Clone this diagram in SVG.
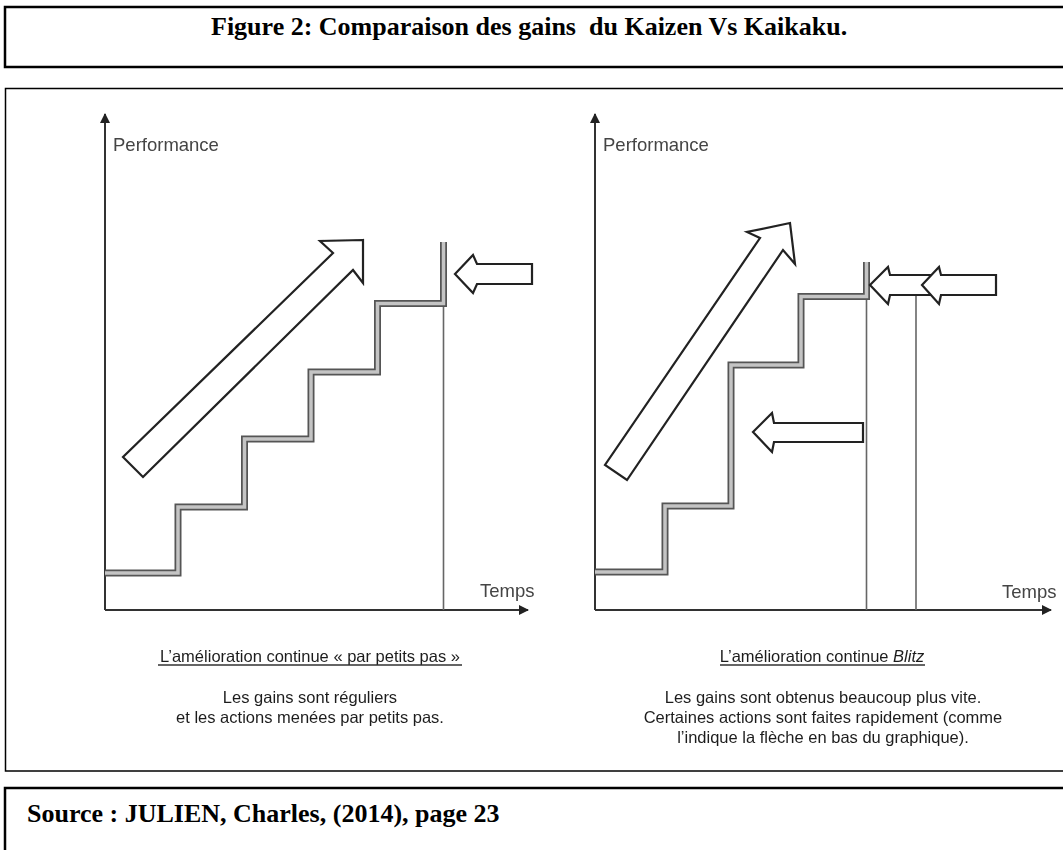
<svg xmlns="http://www.w3.org/2000/svg" width="1063" height="850" viewBox="0 0 1063 850">
  <style>
    .frame { fill: none; stroke: #000; }
    .heading { font-family: "Liberation Serif", "Times New Roman", serif; font-weight: bold; font-size: 26px; fill: #000; white-space: pre; }
    .axis { fill: none; stroke: #333; stroke-width: 2; }
    .axis-label { font-family: "Liberation Sans", Arial, sans-serif; font-size: 18.5px; fill: #444; }
    .stair-edge { fill: none; stroke: #555; stroke-width: 7; stroke-linejoin: miter; }
    .stair-core { fill: none; stroke: #c4c4c4; stroke-width: 3.5; stroke-linejoin: miter; }
    .guide { fill: none; stroke: #666; stroke-width: 1.6; }
    .block-arrow { fill: #fff; stroke: #222; stroke-width: 2.2; stroke-linejoin: miter; }
    .caption { font-family: "Liberation Sans", Arial, sans-serif; font-size: 16.5px; fill: #1e1e1e; text-anchor: middle; }
    .underline { stroke: #333; stroke-width: 1.3; }
  </style>
  <defs>
    <marker id="axis-head" viewBox="0 0 10 10" refX="9" refY="5" markerWidth="11" markerHeight="10" markerUnits="userSpaceOnUse" orient="auto">
      <path d="M0,0 L10,5 L0,10 z" fill="#222"/>
    </marker>
    <filter id="soft" x="-5%" y="-5%" width="110%" height="110%">
      <feGaussianBlur stdDeviation="0.55"/>
    </filter>
    <filter id="softer" x="-5%" y="-20%" width="110%" height="140%">
      <feGaussianBlur stdDeviation="0.7"/>
    </filter>
  </defs>

  <rect width="1063" height="850" fill="#fff"/>

  <!-- title frame -->
  <g id="title">
    <rect class="frame" x="5" y="7" width="1070" height="60" stroke-width="2.5"/>
    <text class="heading" x="211" y="35" xml:space="preserve">Figure 2: Comparaison des gains  du Kaizen Vs Kaikaku.</text>
  </g>

  <!-- figure frame -->
  <rect id="figure-frame" class="frame" x="5.5" y="88.5" width="1070" height="682.5" stroke="#333" stroke-width="1.5"/>

  <!-- left chart: continuous improvement in small steps -->
  <g id="chart-kaizen" filter="url(#soft)">
    <g id="kaizen-axes">
      <line class="axis" x1="105" y1="610" x2="105" y2="114" marker-end="url(#axis-head)"/>
      <line class="axis" x1="105" y1="610" x2="528" y2="610" marker-end="url(#axis-head)"/>
      <text class="axis-label" x="113" y="151">Performance</text>
      <text class="axis-label" x="480" y="597">Temps</text>
    </g>
    <g id="kaizen-stairs">
      <path class="stair-edge" d="M105,573 H178 V507 H244.5 V439 H311 V372 H377.5 V303.5 H443.5 V242"/>
      <path class="stair-core" d="M105,573 H178 V507 H244.5 V439 H311 V372 H377.5 V303.5 H443.5 V242"/>
      <line class="guide" x1="443.5" y1="307" x2="443.5" y2="610"/>
    </g>
    <polygon id="kaizen-trend" class="block-arrow" points="363,240 320,241 333,253 123,457 143,477 353,270 363,283"/>
    <polygon id="kaizen-step" class="block-arrow" points="455,274 473,255 477,264 532,264 532,284 477,284 473,293"/>
  </g>

  <!-- right chart: Blitz improvement -->
  <g id="chart-kaikaku" filter="url(#soft)">
    <g id="kaikaku-axes">
      <line class="axis" x1="595" y1="610" x2="595" y2="114" marker-end="url(#axis-head)"/>
      <line class="axis" x1="595" y1="610" x2="1051" y2="610" marker-end="url(#axis-head)"/>
      <text class="axis-label" x="603" y="151">Performance</text>
      <text class="axis-label" x="1002" y="598">Temps</text>
    </g>
    <g id="kaikaku-stairs">
      <path class="stair-edge" d="M595,572 H665 V506 H731 V365 H801 V296.5 H866.5 V262"/>
      <path class="stair-core" d="M595,572 H665 V506 H731 V365 H801 V296.5 H866.5 V262"/>
      <line class="guide" x1="866.5" y1="300" x2="866.5" y2="610"/>
      <line class="guide" x1="916" y1="295" x2="916" y2="610"/>
    </g>
    <polygon id="kaikaku-trend" class="block-arrow" points="790,223 747,232 760,238 605,465 627,480 783,250 795,264"/>
    <polygon id="kaikaku-step-a" class="block-arrow" points="870,285 888,267 890,275 940,275 940,295 890,295 888,304"/>
    <polygon id="kaikaku-step-b" class="block-arrow" points="922,285 939,267 941,275 996,275 996,295 941,295 939,304"/>
    <polygon id="kaikaku-fast" class="block-arrow" points="753,432 772,413 774,423 863,423 863,442 774,442 772,452"/>
  </g>

  <!-- captions -->
  <g id="caption-kaizen" filter="url(#softer)">
    <text class="caption" x="310" y="662">L’amélioration continue « par petits pas »</text>
    <line class="underline" x1="158" y1="665" x2="462" y2="665"/>
    <text class="caption" x="310" y="703">Les gains sont réguliers</text>
    <text class="caption" x="310" y="723">et les actions menées par petits pas.</text>
  </g>
  <g id="caption-kaikaku" filter="url(#softer)">
    <text class="caption" x="822" y="662">L’amélioration continue <tspan font-style="italic">Blitz</tspan></text>
    <line class="underline" x1="720" y1="665" x2="925" y2="665"/>
    <text class="caption" x="823" y="703">Les gains sont obtenus beaucoup plus vite.</text>
    <text class="caption" x="823" y="723">Certaines actions sont faites rapidement (comme</text>
    <text class="caption" x="823" y="743">l’indique la flèche en bas du graphique).</text>
  </g>

  <!-- source frame -->
  <g id="source">
    <rect class="frame" x="5" y="788" width="1070" height="80" stroke-width="2.5"/>
    <text class="heading" x="27" y="822">Source : JULIEN, Charles, (2014), page 23</text>
  </g>
</svg>
